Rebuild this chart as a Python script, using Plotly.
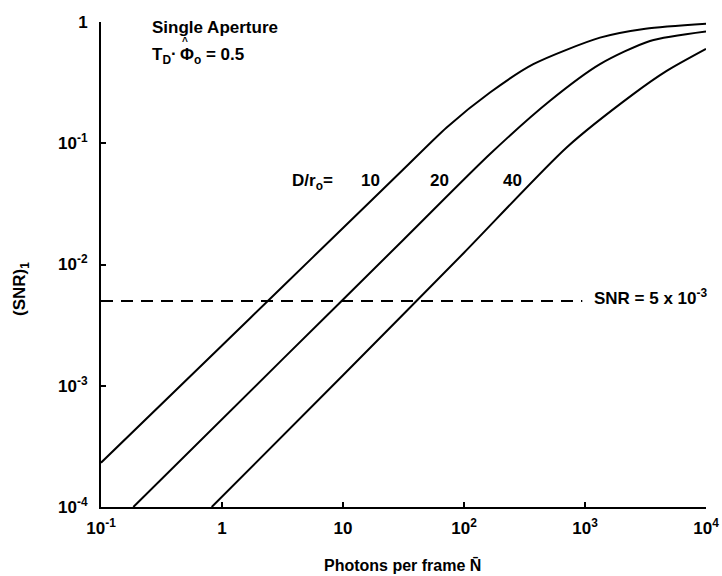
import plotly.graph_objects as go

# ---- data ----
x_d10 = [0.1, 1, 3.16, 10, 31.6, 71.9, 164, 374, 1330, 3160, 10000]
y_d10 = [2.32e-4, 2.15e-3, 6.56e-3, 0.0200, 0.0610, 0.135, 0.262, 0.449, 0.743, 0.881, 0.968]

x_d20 = [0.185, 3.16, 31.6, 164, 514, 1330, 3444, 10000]
y_d20 = [1.0e-4, 1.65e-3, 0.0160, 0.0815, 0.224, 0.449, 0.698, 0.836]

x_d40 = [0.822, 10, 100, 705, 2506, 4732, 10000]
y_d40 = [1.0e-4, 1.22e-3, 0.0125, 0.0923, 0.254, 0.395, 0.600]

snr_x = [0.1, 950]
snr_y = [5e-3, 5e-3]

x_tickvals = [0.1, 1, 10, 100, 1000, 10000]
x_ticktext = ["10<sup>-1</sup>", "1", "10", "10<sup>2</sup>", "10<sup>3</sup>", "10<sup>4</sup>"]
y_tickvals = [1e-4, 1e-3, 1e-2, 1e-1, 1]
y_ticktext = ["10<sup>-4</sup>", "10<sup>-3</sup>", "10<sup>-2</sup>", "10<sup>-1</sup>", "1"]

curve_labels = ["10", "20", "40"]

fig = go.Figure()
for xs, ys in [(x_d10, y_d10), (x_d20, y_d20), (x_d40, y_d40)]:
    fig.add_trace(go.Scatter(x=xs, y=ys, mode="lines",
                             line=dict(color="black", width=2, shape="spline", smoothing=0.7),
                             showlegend=False, hoverinfo="skip"))
fig.add_trace(go.Scatter(x=snr_x, y=snr_y, mode="lines",
                         line=dict(color="black", width=2, dash="12px,8px"),
                         showlegend=False, hoverinfo="skip"))

L, R, T, B = 101, 16, 22, 69
W, H = 722, 576
pw, ph = W - L - R, H - T - B

def px(xp):
    return (xp - L) / pw

def py(yp):
    return (H - B - yp) / ph

FAM = "Liberation Sans, Arial, sans-serif"
font = dict(family=FAM, size=17, color="black", weight="bold")

ann = [
    dict(text="Single Aperture", x=px(150), y=py(28), xanchor="left", yanchor="middle"),
    dict(text="T<sub>D</sub>", x=px(150), y=py(56), xanchor="left", yanchor="middle"),
    dict(text="·", x=px(174), y=py(54), xanchor="center", yanchor="middle"),
    dict(text="Φ<sub>o</sub> = 0.5", x=px(178), y=py(56), xanchor="left", yanchor="middle"),
    dict(text="^", x=px(185), y=py(42), xanchor="center", yanchor="middle",
         font=dict(family=FAM, size=10, color="black", weight="bold")),
    dict(text="D/r<sub>o</sub>=", x=px(290), y=py(182), xanchor="left", yanchor="middle"),
    dict(text=curve_labels[0], x=px(370), y=py(181), xanchor="center", yanchor="middle"),
    dict(text=curve_labels[1], x=px(439), y=py(181), xanchor="center", yanchor="middle"),
    dict(text=curve_labels[2], x=px(512), y=py(181), xanchor="center", yanchor="middle"),
    dict(text="SNR = 5 x 10<sup>-3</sup>", x=px(592), y=py(297), xanchor="left", yanchor="middle"),
    dict(text="Photons per frame N\u0304", x=px(402), y=py(565), xanchor="center", yanchor="middle",
         font=dict(family=FAM, size=16, color="black", weight="bold")),
    dict(text="(SNR)<sub>1</sub>", x=px(21), y=py(289), xanchor="center", yanchor="middle", textangle=-90),
]
for a in ann:
    a.update(xref="paper", yref="paper", showarrow=False)
    a.setdefault("font", font)

fig.update_layout(
    width=W, height=H,
    margin=dict(l=L, r=R, t=T, b=B, pad=0),
    paper_bgcolor="white", plot_bgcolor="white",
    font=font,
    annotations=ann,
    xaxis=dict(type="log", range=[-1, 4], showgrid=False, zeroline=False,
               showline=True, linecolor="black", linewidth=2, automargin=False,
               ticks="inside", ticklen=5, tickwidth=1.5, tickcolor="black",
               tickvals=x_tickvals, ticktext=x_ticktext, ticklabelstandoff=5),
    yaxis=dict(type="log", range=[-4, 0], showgrid=False, zeroline=False,
               showline=True, linecolor="black", linewidth=2, automargin=False,
               ticks="inside", ticklen=5, tickwidth=1.5, tickcolor="black",
               tickvals=y_tickvals, ticktext=y_ticktext, ticklabelstandoff=8),
)

fig.write_html("out.html", config={"displayModeBar": False},
               post_script="document.body.style.margin='0';document.body.style.overflow='hidden';")
